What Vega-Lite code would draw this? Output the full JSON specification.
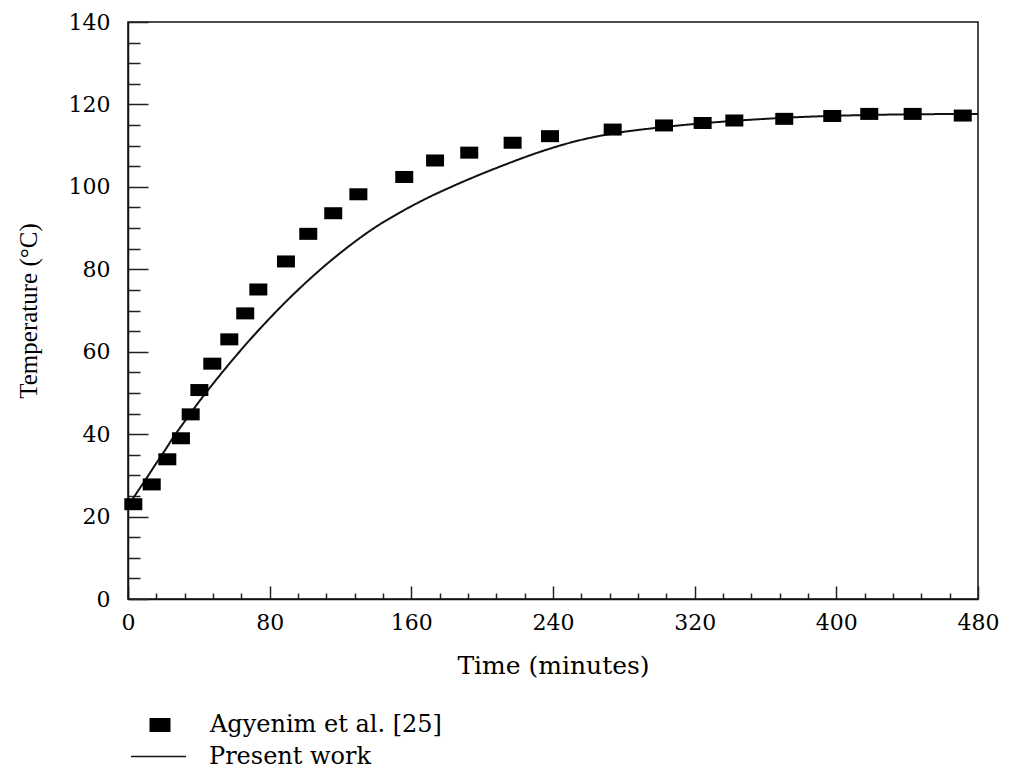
{
  "$schema": "https://vega.github.io/schema/vega-lite/v6.json",
  "width": 850,
  "height": 577,
  "autosize": {"type": "none"},
  "padding": {"left": 128, "top": 22, "right": 31, "bottom": 170},
  "background": "white",
  "config": {
    "view": {"stroke": "#111", "strokeWidth": 1.5},
    "axis": {
      "grid": false,
      "domainColor": "#111",
      "domainWidth": 1.5,
      "tickColor": "#222",
      "tickWidth": 1.5,
      "labelFont": "DejaVu Serif",
      "labelFontSize": 22,
      "labelColor": "#000",
      "titleFont": "DejaVu Serif",
      "titleFontSize": 25,
      "titleFontWeight": "normal",
      "titleColor": "#000",
      "labelFlush": false,
      "labelOverlap": false
    },
    "legend": {
      "labelFont": "DejaVu Serif",
      "labelFontSize": 24,
      "labelColor": "#000",
      "padding": 0,
      "labelLimit": 400
    }
  },
  "datasets": {
    "exp": [
      {"time": 3.0, "temp": 23.0, "source": "Agyenim et al. [25]"},
      {"time": 13.4, "temp": 27.8, "source": "Agyenim et al. [25]"},
      {"time": 22.2, "temp": 33.9, "source": "Agyenim et al. [25]"},
      {"time": 29.9, "temp": 39.0, "source": "Agyenim et al. [25]"},
      {"time": 35.4, "temp": 44.8, "source": "Agyenim et al. [25]"},
      {"time": 40.3, "temp": 50.7, "source": "Agyenim et al. [25]"},
      {"time": 47.6, "temp": 57.1, "source": "Agyenim et al. [25]"},
      {"time": 57.2, "temp": 63.0, "source": "Agyenim et al. [25]"},
      {"time": 66.2, "temp": 69.3, "source": "Agyenim et al. [25]"},
      {"time": 73.6, "temp": 75.1, "source": "Agyenim et al. [25]"},
      {"time": 89.2, "temp": 81.9, "source": "Agyenim et al. [25]"},
      {"time": 101.8, "temp": 88.6, "source": "Agyenim et al. [25]"},
      {"time": 115.9, "temp": 93.6, "source": "Agyenim et al. [25]"},
      {"time": 130.1, "temp": 98.2, "source": "Agyenim et al. [25]"},
      {"time": 156.0, "temp": 102.4, "source": "Agyenim et al. [25]"},
      {"time": 173.4, "temp": 106.4, "source": "Agyenim et al. [25]"},
      {"time": 192.7, "temp": 108.3, "source": "Agyenim et al. [25]"},
      {"time": 217.2, "temp": 110.7, "source": "Agyenim et al. [25]"},
      {"time": 238.3, "temp": 112.3, "source": "Agyenim et al. [25]"},
      {"time": 273.7, "temp": 113.9, "source": "Agyenim et al. [25]"},
      {"time": 302.7, "temp": 114.9, "source": "Agyenim et al. [25]"},
      {"time": 324.5, "temp": 115.5, "source": "Agyenim et al. [25]"},
      {"time": 342.4, "temp": 116.1, "source": "Agyenim et al. [25]"},
      {"time": 370.6, "temp": 116.5, "source": "Agyenim et al. [25]"},
      {"time": 397.7, "temp": 117.2, "source": "Agyenim et al. [25]"},
      {"time": 418.6, "temp": 117.7, "source": "Agyenim et al. [25]"},
      {"time": 443.1, "temp": 117.7, "source": "Agyenim et al. [25]"},
      {"time": 471.4, "temp": 117.3, "source": "Agyenim et al. [25]"}
    ],
    "model": [
      {"time": 0, "temp": 22.5, "series": "Present work"},
      {"time": 5, "temp": 25.8, "series": "Present work"},
      {"time": 10, "temp": 29.0, "series": "Present work"},
      {"time": 15, "temp": 32.3, "series": "Present work"},
      {"time": 20, "temp": 35.5, "series": "Present work"},
      {"time": 26.5, "temp": 39.8, "series": "Present work"},
      {"time": 30, "temp": 41.9, "series": "Present work"},
      {"time": 40, "temp": 47.8, "series": "Present work"},
      {"time": 50, "temp": 53.3, "series": "Present work"},
      {"time": 60, "temp": 58.5, "series": "Present work"},
      {"time": 70, "temp": 63.45, "series": "Present work"},
      {"time": 80, "temp": 68.1, "series": "Present work"},
      {"time": 90, "temp": 72.5, "series": "Present work"},
      {"time": 100, "temp": 76.6, "series": "Present work"},
      {"time": 110, "temp": 80.45, "series": "Present work"},
      {"time": 120, "temp": 84.0, "series": "Present work"},
      {"time": 130, "temp": 87.3, "series": "Present work"},
      {"time": 140, "temp": 90.3, "series": "Present work"},
      {"time": 150, "temp": 92.9, "series": "Present work"},
      {"time": 160, "temp": 95.3, "series": "Present work"},
      {"time": 170, "temp": 97.5, "series": "Present work"},
      {"time": 180, "temp": 99.5, "series": "Present work"},
      {"time": 190, "temp": 101.4, "series": "Present work"},
      {"time": 200, "temp": 103.2, "series": "Present work"},
      {"time": 210, "temp": 104.9, "series": "Present work"},
      {"time": 220, "temp": 106.55, "series": "Present work"},
      {"time": 230, "temp": 108.1, "series": "Present work"},
      {"time": 240, "temp": 109.5, "series": "Present work"},
      {"time": 250, "temp": 110.75, "series": "Present work"},
      {"time": 260, "temp": 111.8, "series": "Present work"},
      {"time": 270, "temp": 112.65, "series": "Present work"},
      {"time": 280, "temp": 113.35, "series": "Present work"},
      {"time": 290, "temp": 113.9, "series": "Present work"},
      {"time": 300, "temp": 114.4, "series": "Present work"},
      {"time": 310, "temp": 114.85, "series": "Present work"},
      {"time": 320, "temp": 115.25, "series": "Present work"},
      {"time": 340, "temp": 115.95, "series": "Present work"},
      {"time": 360, "temp": 116.5, "series": "Present work"},
      {"time": 380, "temp": 116.95, "series": "Present work"},
      {"time": 400, "temp": 117.25, "series": "Present work"},
      {"time": 420, "temp": 117.45, "series": "Present work"},
      {"time": 440, "temp": 117.6, "series": "Present work"},
      {"time": 460, "temp": 117.65, "series": "Present work"},
      {"time": 480, "temp": 117.65, "series": "Present work"}
    ]
  },
  "encoding": {
    "x": {
      "field": "time",
      "type": "quantitative",
      "scale": {"domain": [0, 480], "nice": false, "zero": false},
      "axis": {
        "title": "Time (minutes)",
        "values": [0,16,32,48,64,80,96,112,128,144,160,176,192,208,224,240,256,272,288,304,320,336,352,368,384,400,416,432,448,464,480],
        "labelExpr": "datum.value % 80 === 0 ? datum.label : ''",
        "tickSize": {"condition": {"test": "datum.value % 80 === 0", "value": -13}, "value": -6},
        "labelPadding": 26,
        "labelOverlap": false,
        "labelFlush": false,
        "titlePadding": 13
      }
    },
    "y": {
      "field": "temp",
      "type": "quantitative",
      "scale": {"domain": [0, 140], "nice": false},
      "axis": {
        "title": "Temperature (°C)",
        "values": [0,5,10,15,20,25,30,35,40,45,50,55,60,65,70,75,80,85,90,95,100,105,110,115,120,125,130,135,140],
        "labelExpr": "datum.value % 20 === 0 ? datum.label : ''",
        "tickSize": {"condition": {"test": "datum.value % 20 === 0", "value": -20}, "value": -12},
        "labelPadding": 38,
        "labelOverlap": false,
        "labelFlush": false,
        "titleFont": "Liberation Serif",
        "titleFontSize": 25,
        "titlePadding": 27
      }
    }
  },
  "layer": [
    {
      "data": {"name": "model"},
      "mark": {"type": "line", "color": "#111", "strokeWidth": 2, "interpolate": "monotone"},
      "encoding": {
        "strokeDash": {
          "field": "series",
          "type": "nominal",
          "scale": {"domain": ["Present work"], "range": [[1, 0]]},
          "legend": {
            "orient": "none",
            "legendX": 2,
            "legendY": 706,
            "title": null,
            "symbolSize": 3025,
            "symbolStrokeWidth": 1.5,
            "symbolStrokeColor": "#111",
            "labelOffset": 22
          }
        }
      }
    },
    {
      "data": {"name": "exp"},
      "mark": {"type": "point", "filled": true, "color": "#000", "opacity": 1, "size": 324},
      "encoding": {
        "shape": {
          "field": "source",
          "type": "nominal",
          "scale": {"domain": ["Agyenim et al. [25]"], "range": ["M-1,-0.667H1V0.667H-1Z"]},
          "legend": {
            "orient": "none",
            "legendX": 20,
            "legendY": 691,
            "title": null,
            "symbolSize": 441,
            "symbolFillColor": "#000",
            "symbolStrokeWidth": 0,
            "labelOffset": 38
          }
        }
      }
    }
  ]
}
